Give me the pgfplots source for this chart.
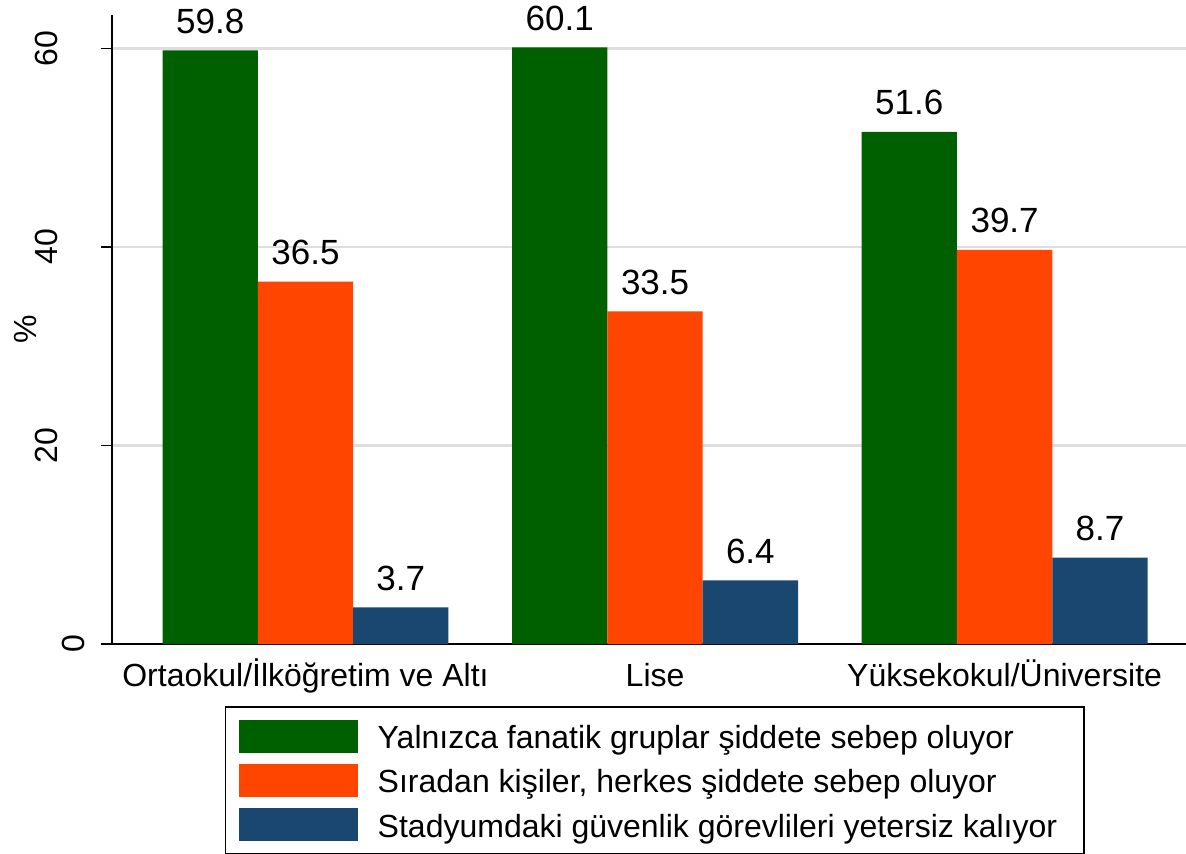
\documentclass[border=0pt]{standalone}
\usepackage{fontspec}
\setmainfont{Liberation Sans}
\usepackage{pgfplots}
\pgfplotsset{compat=1.18}
\definecolor{cgreen}{RGB}{0,96,0}
\definecolor{corange}{RGB}{255,69,0}
\definecolor{cblue}{RGB}{26,71,111}
\definecolor{cgrid}{RGB}{222,222,222}
\begin{document}
\begin{tikzpicture}
\begin{axis}[
  scale only axis, width=537pt, height=314.7pt,
  xmin=-0.5536, xmax=2.519, ymin=0, ymax=63.4,
  ybar=0pt, bar width=47.65pt,
  axis x line*=bottom, axis y line*=left,
  x axis line style={-, line width=1pt, black},
  y axis line style={-, line width=0.75pt, black},
  xtick={0,1,2},
  xticklabels={Ortaokul/İlköğretim ve Altı, Lise, Yüksekokul/Üniversite},
  xtick style={draw=none},
  xticklabel style={anchor=base, yshift=-15.5pt, inner sep=0pt, font=\fontsize{16}{19}\selectfont},
  ytick={20,40,60},
  extra y ticks={0},
  extra y tick style={grid=none, yticklabel style={yshift=-13.5pt}},
  ytick style={black, line width=0.75pt},
  tick align=outside, major tick length=5.5pt,
  yticklabel style={rotate=90, anchor=center, inner sep=0pt, yshift=27.25pt, font=\fontsize{16}{19}\selectfont},
  /pgf/number format/assume math mode=true,
  ymajorgrids, grid style={cgrid, line width=1.2pt},
  ylabel={\%},
  ylabel style={at={(axis description cs:0,0.5)}, anchor=center, yshift=43.5pt, font=\fontsize{16}{19}\selectfont},
  point meta=y,
  nodes near coords={\pgfmathprintnumber[fixed,fixed zerofill,precision=1]{\pgfplotspointmeta}},
  every node near coord/.append style={anchor=base, inner sep=0pt, yshift=8.5pt, font=\fontsize{17.5}{20}\selectfont, black},
  legend style={at={(0.1052,-0.0985)}, anchor=north west, draw=black, line width=0.75pt,
    inner xsep=6.5pt, inner ysep=6.5pt, row sep=5.6pt, column sep=10pt,
    font=\fontsize{16}{19}\selectfont, nodes={inner sep=0pt}, cells={anchor=base west}},
  legend image code/.code={\path[#1, draw=none] (0pt,-2pt) rectangle (59.5pt,14.5pt);},
  clip=false,
]
\addplot[fill=cgreen, draw=none] coordinates {(0,59.8) (1,60.1) (2,51.6)};
\addlegendentry{Yalnızca fanatik gruplar şiddete sebep oluyor}
\addplot[fill=corange, draw=none] coordinates {(0,36.5) (1,33.5) (2,39.7)};
\addlegendentry{Sıradan kişiler, herkes şiddete sebep oluyor}
\addplot[fill=cblue, draw=none] coordinates {(0,3.7) (1,6.4) (2,8.7)};
\addlegendentry{Stadyumdaki güvenlik görevlileri yetersiz kalıyor\hspace{7pt}\rule[-7pt]{0pt}{1pt}}
\end{axis}
\pgfresetboundingbox
\path[use as bounding box] (-56pt,-104.5pt) rectangle (537pt,322pt);
\end{tikzpicture}
\end{document}
